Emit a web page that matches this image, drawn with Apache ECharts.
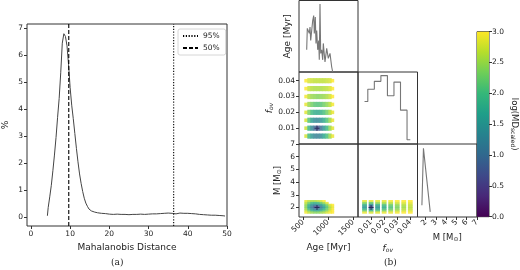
<!DOCTYPE html>
<html>
<head>
<meta charset="utf-8">
<script src="https://cdn.jsdelivr.net/npm/echarts@6/dist/echarts.min.js"></script>
<style>
html,body{margin:0;padding:0;background:#fff;}
#main{width:520px;height:270px;}
</style>
</head>
<body>
<div id="main"></div>
<script>
// (a) Mahalanobis distance histogram (bin centres, %)
var mdX = [4.2,4.6,5.0,5.4,5.8,6.2,6.6,7.0,7.4,7.8,8.2,8.6,9.0,9.4,9.8,10.2,10.6,11.0,11.4,11.8,12.2,12.6,13.0,13.4,13.8,14.2,14.6,15.0,15.4,15.8,
  16.5,17.5,18.5,19.5,20.5,21.5,22.5,23.5,24.5,25.5,26.5,27.5,28.5,29.5,30.5,31.5,32.5,33.5,34.5,35.5,36.5,37.5,38.5,39.5,40.5,41.5,42.5,43.5,44.5,45.5,46.5,47.5,48.5,49.5];
var mdPct = [0.05,0.35,0.75,1.18,1.72,2.3,2.95,3.7,4.4,5.35,6.45,6.8,6.7,6.35,5.65,4.8,4.15,3.65,3.1,2.55,2.05,1.6,1.25,0.95,0.7,0.52,0.4,0.3,0.23,0.19,
  0.16,0.14,0.13,0.11,0.1,0.11,0.1,0.1,0.09,0.1,0.1,0.11,0.1,0.11,0.12,0.12,0.13,0.14,0.15,0.14,0.12,0.15,0.14,0.14,0.13,0.12,0.1,0.09,0.08,0.07,0.07,0.06,0.05,0.04];
var p95 = 36.4, p50 = 9.65;
var mdTicksX = [0,10,20,30,40,50];
var mdTicksY = [0,1,2,3,4,5,6,7];

// (b) corner plot
var ageHistX = [574,586,626,640,654,674,694,714,726,746,760,774,794,814,826,840,854,874,894,906,940,974,1006,1040,1074,1094];
var ageHistY = [0.31,0.61,0.54,0.63,0.44,0.58,0.72,0.79,0.54,0.77,0.40,0.58,0.31,0.44,0.17,0.95,0.26,0.31,0.17,0.40,0.14,0.33,0.19,0.26,0.07,0.0];
var fovEdges = [0.005,0.0075,0.0125,0.0175,0.0225,0.0275,0.0325,0.0375,0.04];
var fovHist = [0.59,0.76,0.87,0.95,0.67,0.86,0.47,0.06];
var mHistX = [1.63,1.78,1.85,1.95,2.44];
var mHistY = [0.16,0.94,0.96,0.92,0.07];

var ageCols = [560,620,680,740,800,860,920,980,1040,1090];
var fovRows = [0.04,0.035,0.03,0.025,0.02,0.015,0.01,0.005];
var mRows = [2.5,2.35,2.2,2.05,1.9,1.75,1.6];
var fovCols = [0.005,0.01,0.015,0.02,0.025,0.03,0.035,0.04];

// log(MD_scaled), rows = fovRows, cols = ageCols
var fovAgeMD = [
  [3.0,2.8,2.75,2.7,2.7,2.7,2.7,2.75,2.8,3.0],
  [3.0,2.75,2.65,2.6,2.6,2.6,2.65,2.7,2.8,3.0],
  [2.95,2.65,2.5,2.45,2.4,2.45,2.5,2.6,2.75,3.0],
  [2.9,2.5,2.3,2.15,2.1,2.15,2.3,2.45,2.65,2.95],
  [2.85,2.35,2.0,1.8,1.75,1.85,2.05,2.3,2.6,2.9],
  [2.8,2.1,1.6,1.35,1.3,1.45,1.75,2.1,2.5,2.9],
  [2.75,1.9,1.3,0.9,0.7,1.0,1.5,1.95,2.45,2.85],
  [2.8,2.0,1.5,1.25,1.2,1.35,1.7,2.05,2.5,2.9]
];
// rows = mRows, cols = ageCols
var mAgeMD = [
  [2.9,2.7,2.6,2.6,2.7,2.8,3.0,null,null,null],
  [2.7,2.3,2.0,1.9,2.0,2.2,2.5,2.9,null,null],
  [2.5,1.9,1.5,1.3,1.4,1.6,2.0,2.4,2.8,3.0],
  [2.4,1.7,1.1,0.6,0.6,1.1,1.6,2.1,2.6,2.9],
  [2.5,1.8,1.3,1.0,1.0,1.3,1.7,2.2,2.6,2.95],
  [2.7,2.2,1.8,1.6,1.6,1.8,2.1,2.4,2.75,3.0],
  [2.95,2.7,2.5,2.4,2.4,2.5,2.6,2.8,2.95,3.0]
];
// rows = mRows, cols = fovCols
var mFovMD = [
  [2.9,2.9,2.9,2.9,2.95,3.0,3.0,3.0],
  [2.4,2.2,2.5,2.6,2.7,2.8,2.85,2.9],
  [1.9,1.4,1.9,2.1,2.3,2.5,2.65,2.75],
  [1.5,0.7,1.5,1.8,2.1,2.35,2.55,2.7],
  [1.7,1.1,1.6,1.9,2.15,2.4,2.6,2.7],
  [2.2,1.9,2.1,2.3,2.45,2.6,2.75,2.8],
  [2.9,2.8,2.85,2.9,2.9,2.95,3.0,3.0]
];
var best = {age: 780, fov: 0.01, m: 2.0};
var ageTicks = [500,1000,1500];
var fovTicks = [0.01,0.02,0.03,0.04];
var mTicks = [2,3,4,5,6,7];

var viridis = ['#440154','#482878','#3e4989','#31688e','#26828e','#1f9e89','#35b779','#6ece58','#b5de2b','#fde725'];

var myChart = echarts.init(document.getElementById('main'));

function pairs(xs, ys){
  var out = [];
  for (var i = 0; i < xs.length; i++) out.push([xs[i], ys[i]]);
  return out;
}
function cells(xs, ys, mat){
  var out = [];
  for (var r = 0; r < mat.length; r++){
    for (var c = 0; c < mat[r].length; c++){
      if (mat[r][c] == null) continue;
      out.push([xs[c], ys[r], mat[r][c]]);
    }
  }
  return out;
}
var fovStep = [];
for (var i = 0; i < fovHist.length; i++) fovStep.push([fovEdges[i], fovHist[i]]);
fovStep.push([fovEdges[fovEdges.length-1], fovHist[fovHist.length-1]]);

var TXT = '#222';
var plus = 'path://M4,0H6V4H10V6H6V10H4V6H0V4H4Z';

function merge(a, b){ for (var k in b) a[k] = b[k]; return a; }
function xax(gi, min, max, extra){
  var a = {
    type: 'value', gridIndex: gi, min: min, max: max,
    axisLine: {show: false, onZero: false},
    splitLine: {show: false},
    axisTick: {show: false},
    axisLabel: {show: false}
  };
  return merge(a, extra || {});
}
function shown(vals, rot){
  return {
    axisTick: {show: true, customValues: vals, length: 3, lineStyle: {color: '#333'}},
    axisLabel: {show: true, customValues: vals, rotate: rot || 0, margin: 4, fontSize: 7.5, color: TXT,
      formatter: function(v){ return String(v); }}
  };
}

var nameFont = {fontSize: 9, color: TXT, fontFamily: 'DejaVu Sans'};
var subRich = {
  n: {fontSize: 8.5, color: TXT, fontFamily: 'DejaVu Sans'},
  i: {fontSize: 9, color: TXT, fontStyle: 'italic', fontFamily: 'DejaVu Sans'},
  s: {fontSize: 6, color: TXT, fontFamily: 'DejaVu Sans', verticalAlign: 'bottom', padding: [3,0,0,0]},
  si: {fontSize: 6, color: TXT, fontStyle: 'italic', fontFamily: 'DejaVu Sans', verticalAlign: 'bottom', padding: [3,0,0,0]}
};

var option = {
  animation: false,
  textStyle: {fontFamily: 'DejaVu Sans'},
  grid: [
    {left: 23, top: 24, width: 204, height: 202},
    {left: 299, top: 0.5, width: 59, height: 71.5},
    {left: 299, top: 72, width: 59, height: 72},
    {left: 358, top: 72, width: 59.5, height: 72},
    {left: 299, top: 144, width: 59, height: 73},
    {left: 358, top: 144, width: 59.5, height: 73},
    {left: 417.5, top: 144, width: 59.5, height: 73},
    {left: 477, top: 31.7, width: 14, height: 185}
  ].map(function(g){ return merge(g, {show: true, borderColor: '#333', borderWidth: 1, backgroundColor: 'transparent'}); }),
  legend: {
    data: ['95%','50%'], orient: 'vertical', left: 178, top: 29,
    itemWidth: 15, itemHeight: 6, itemGap: 4,
    padding: [3,6,3,4], borderColor: '#ccc', borderWidth: 0.8, borderRadius: 2,
    itemStyle: {opacity: 0},
    textStyle: {fontSize: 7.5, color: TXT}
  },
  visualMap: {
    show: false, type: 'continuous', min: 0, max: 3, dimension: 2,
    seriesIndex: [4, 7, 9], inRange: {color: viridis}
  },
  xAxis: [
    merge(xax(0, -1, 50), merge(shown(mdTicksX), {name: 'Mahalanobis Distance', nameLocation: 'middle', nameGap: 17, nameTextStyle: nameFont})),
    xax(1, 420, 1600),
    xax(2, 420, 1600),
    xax(3, 0, 0.0455),
    merge(xax(4, 420, 1600), merge(shown(ageTicks, 45), {name: 'Age [Myr]', nameLocation: 'middle', nameGap: 26, nameTextStyle: nameFont})),
    merge(xax(5, 0, 0.0455), merge(shown(fovTicks, 45), {name: '{i|f}{si|ov}', nameLocation: 'middle', nameGap: 27, nameTextStyle: {rich: subRich}})),
    merge(xax(6, 1.2, 7), merge(shown(mTicks, 45), {name: '{n|M [M}{s|⊙}{n|]}', nameLocation: 'middle', nameGap: 16, nameTextStyle: {rich: subRich}})),
    {type: 'category', gridIndex: 7, data: ['c'], show: false}
  ],
  yAxis: [
    merge(xax(0, -0.33, 7.16), merge(shown(mdTicksY), {name: '%', nameLocation: 'middle', nameGap: 17, nameRotate: 90, nameTextStyle: nameFont})),
    merge(xax(1, 0, 1), {name: 'Age [Myr]', nameLocation: 'middle', nameGap: 7, nameRotate: 90, nameTextStyle: nameFont}),
    merge(xax(2, 0, 0.0455), merge(shown(fovTicks), {name: '{i|f}{si|ov}', nameLocation: 'middle', nameGap: 23, nameRotate: 90, nameTextStyle: {rich: subRich}})),
    xax(3, 0, 1),
    merge(xax(4, 1.25, 7), merge(shown(mTicks), {name: '{n|M [M}{s|⊙}{n|]}', nameLocation: 'middle', nameGap: 17, nameRotate: 90, nameTextStyle: {rich: subRich}})),
    xax(5, 1.25, 7),
    xax(6, 0, 1),
    {type: 'value', gridIndex: 7, min: 0, max: 3, interval: 0.5, position: 'right',
      axisLine: {show: false}, splitLine: {show: false},
      axisTick: {show: true, length: 3, lineStyle: {color: '#333'}},
      axisLabel: {margin: 3, fontSize: 7.5, color: TXT, formatter: function(v){ return v.toFixed(1); }},
      name: '{n|log(MD}{s|scaled}{n|)}', nameLocation: 'middle', nameGap: 21, nameRotate: -90,
      nameTextStyle: {rich: subRich}}
  ],
  series: [
    {type: 'line', xAxisIndex: 0, yAxisIndex: 0, step: 'middle', symbol: 'none', data: pairs(mdX, mdPct),
      lineStyle: {color: '#444', width: 1}},
    {name: '95%', type: 'line', xAxisIndex: 0, yAxisIndex: 0, symbol: 'none', color: '#000',
      data: [[p95, -0.33], [p95, 7.16]], lineStyle: {color: '#000', width: 1.1, type: [1.2, 1.6]}},
    {name: '50%', type: 'line', xAxisIndex: 0, yAxisIndex: 0, symbol: 'none', color: '#000',
      data: [[p50, -0.33], [p50, 7.16]], lineStyle: {color: '#000', width: 1.1, type: [4, 2]}},
    {type: 'line', xAxisIndex: 1, yAxisIndex: 1, symbol: 'none', data: pairs(ageHistX, ageHistY),
      lineStyle: {color: '#777', width: 1.1}},
    {type: 'scatter', xAxisIndex: 2, yAxisIndex: 2, symbol: 'rect',
      symbolSize: function(d){ return (d[0] === ageCols[0] || d[0] === ageCols[ageCols.length-1]) ? [3.4, 3.6] : [3.4, 5.2]; },
      data: cells(ageCols, fovRows, fovAgeMD)},
    {type: 'scatter', xAxisIndex: 2, yAxisIndex: 2, symbol: plus, symbolSize: 5, z: 5,
      itemStyle: {color: '#1d1a4f'}, data: [[best.age, best.fov]]},
    {type: 'line', xAxisIndex: 3, yAxisIndex: 3, step: 'end', symbol: 'none', data: fovStep,
      lineStyle: {color: '#777', width: 1.1}},
    {type: 'scatter', xAxisIndex: 4, yAxisIndex: 4, symbol: 'rect', symbolSize: [3.4, 2.3],
      data: cells(ageCols, mRows, mAgeMD)},
    {type: 'scatter', xAxisIndex: 4, yAxisIndex: 4, symbol: plus, symbolSize: 5, z: 5,
      itemStyle: {color: '#1d1a4f'}, data: [[best.age, best.m]]},
    {type: 'scatter', xAxisIndex: 5, yAxisIndex: 5, symbol: 'rect', symbolSize: [4.8, 2.3],
      data: cells(fovCols, mRows, mFovMD)},
    {type: 'scatter', xAxisIndex: 5, yAxisIndex: 5, symbol: plus, symbolSize: 5, z: 5,
      itemStyle: {color: '#1d1a4f'}, data: [[best.fov, best.m]]},
    {type: 'line', xAxisIndex: 6, yAxisIndex: 6, symbol: 'none', data: pairs(mHistX, mHistY),
      lineStyle: {color: '#777', width: 1.1}},
    {type: 'bar', xAxisIndex: 7, yAxisIndex: 7, barWidth: '100%', data: [3],
      itemStyle: {color: new echarts.graphic.LinearGradient(0, 0, 0, 1,
        viridis.slice().reverse().map(function(c, i){ return {offset: i / (viridis.length - 1), color: c}; }))}}
  ],
  graphic: [
    {type: 'text', left: 111, top: 258, style: {text: '(a)', fontSize: 9, fontFamily: 'DejaVu Serif', fill: TXT}},
    {type: 'text', left: 384, top: 258, style: {text: '(b)', fontSize: 9, fontFamily: 'DejaVu Serif', fill: TXT}}
  ]
};
myChart.setOption(option);
</script>
</body>
</html>
